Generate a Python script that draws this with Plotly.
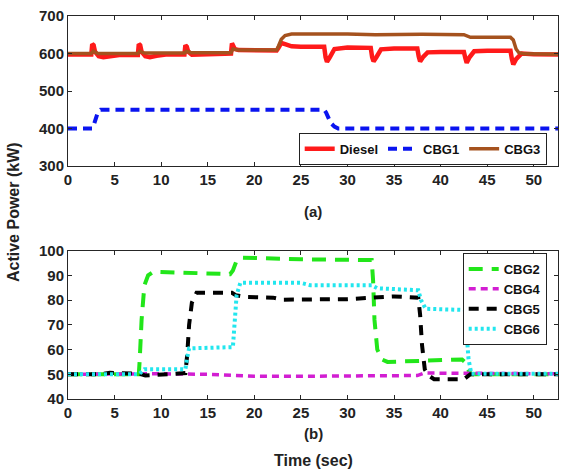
import plotly.graph_objects as go

# ---------------- data ----------------
diesel_t = [0, 2.5, 2.6, 2.75, 2.9, 3.3, 3.8, 4.5, 5.5, 7.5, 7.6, 7.75, 7.9, 8.3, 8.8, 9.5, 10.5, 12.5, 12.6, 12.75, 12.9, 13.3,
            13.8, 15, 17.5, 17.6, 17.75, 17.9, 18.3, 20, 22.4, 22.6, 22.9, 23.3, 24, 25, 27.5, 27.65, 27.8, 28.1, 28.6, 30,
            32.5, 32.65, 32.8, 33.1, 33.6, 35, 37.5, 37.65, 37.8, 38.1, 38.6, 40, 42.5, 42.65, 42.8, 43.1, 43.6, 45, 47.5,
            47.65, 47.8, 48.1, 48.7, 50, 52.6]
diesel_v = [597, 597, 625, 622, 605, 593, 590, 592, 596, 596, 625, 622, 605, 593, 590, 594, 597, 597, 622, 618, 605, 597,
            597, 600, 600, 627, 622, 612, 609, 608, 608, 615, 628, 625, 619, 618, 618, 590, 578, 590, 612, 616,
            615, 590, 579, 590, 611, 613, 613, 592, 579, 590, 603, 604, 604, 588, 575, 590, 606, 607, 607,
            585, 571, 585, 600, 598, 597]
cbg1_t = [0, 2.6, 2.8, 3.0, 3.2, 3.5, 27.5, 27.7, 27.9, 28.2, 28.6, 29.0, 52.6]
cbg1_v = [400, 400, 412, 430, 443, 450, 450, 443, 430, 415, 405, 400, 400]
cbg3_t = [0, 2.5, 2.7, 3.2, 7.5, 7.7, 8.2, 12.5, 12.7, 13.2, 17.5, 17.7, 18.3, 22.4, 22.6, 22.9, 23.3, 24, 30, 33, 38, 42.5,
          43.2, 47.5, 47.8, 48.1, 48.4, 49, 52.6]
cbg3_v = [600, 600, 606, 600, 600, 606, 601, 601, 606, 602, 602, 612, 609, 609, 620, 638, 648, 652, 652, 650, 651, 650,
          643, 643, 636, 612, 602, 599, 598]

cbg2_t = [0, 7.6, 7.7, 7.9, 8.2, 8.6, 9.2, 17.4, 17.7, 18.1, 18.7, 25, 32.6, 32.75, 32.9, 33.2, 33.7, 34.3, 42.3, 42.6, 42.9,
          43.3, 52.6]
cbg2_v = [50, 50, 56, 72, 86, 90, 91.5, 90.5, 92, 96, 97.2, 96.5, 96.2, 88, 72, 60, 56, 55, 56, 55, 52, 50, 50]
cbg4_t = [0, 8, 10, 15, 20, 25, 30, 37.5, 38.2, 42, 45, 52.6]
cbg4_v = [50, 50.4, 50.2, 50, 49.2, 49.2, 49.4, 49.5, 50.5, 50.5, 50.3, 50.2]
cbg5_t = [0, 3.5, 4.5, 7.7, 8.3, 12.6, 12.8, 13.0, 13.3, 13.8, 17.6, 18.0, 19, 22, 23, 30, 35, 37.6, 37.8, 38.0, 38.3,
          38.7, 39.3, 42.5, 43.2, 52.6]
cbg5_v = [50, 50, 50.6, 50.2, 49.5, 50.5, 58, 70, 79, 83, 83, 82, 81.3, 81, 80.2, 80.4, 81.5, 81, 74, 62, 52, 49.5,
          48, 48, 50, 50]
cbg6_t = [0, 7.6, 8.2, 12.6, 12.8, 13.0, 17.7, 17.9, 18.1, 18.5, 25, 26, 32.6, 33.2, 37.6, 37.9, 38.4, 42.6, 42.8, 43.0,
          43.3, 52.6]
cbg6_v = [50, 50, 52, 52, 57, 60.5, 61, 72, 82, 87, 87, 86, 86, 84.8, 84, 80, 76.5, 76, 66, 56, 50.2, 50.2]

x_ticks = [0, 5, 10, 15, 20, 25, 30, 35, 40, 45, 50]
top_ticks = [300, 400, 500, 600, 700]
bot_ticks = [40, 50, 60, 70, 80, 90, 100]

FONT = "Liberation Sans, Arial, sans-serif"
AXC = "#262626"
TXT = "#222222"

# page geometry (pixels)
W, H, L, R, T, B = 570, 471, 68, 12, 16, 72
pw, ph = W - L - R, H - T - B


def px_x(v):
    return (v - L) / pw


def px_y(v):
    return (H - B - v) / ph


fig = go.Figure()
# top panel
fig.add_trace(go.Scatter(x=diesel_t, y=diesel_v, name="Diesel", mode="lines",
                         line=dict(color="#ff1a1a", width=4.5), xaxis="x", yaxis="y"))
fig.add_trace(go.Scatter(x=cbg1_t, y=cbg1_v, name="CBG1", mode="lines",
                         line=dict(color="#0a14f0", width=4, dash="9px,6px"), xaxis="x", yaxis="y"))
fig.add_trace(go.Scatter(x=cbg3_t, y=cbg3_v, name="CBG3", mode="lines",
                         line=dict(color="#a5521e", width=3.5), xaxis="x", yaxis="y"))
# bottom panel
fig.add_trace(go.Scatter(x=cbg2_t, y=cbg2_v, name="CBG2", mode="lines",
                         line=dict(color="#22e61a", width=4, dash="14px,9px"), xaxis="x2", yaxis="y2",
                         legend="legend2"))
fig.add_trace(go.Scatter(x=cbg4_t, y=cbg4_v, name="CBG4", mode="lines",
                         line=dict(color="#d21ed2", width=3.5, dash="7px,5px"), xaxis="x2", yaxis="y2",
                         legend="legend2"))
fig.add_trace(go.Scatter(x=cbg5_t, y=cbg5_v, name="CBG5", mode="lines",
                         line=dict(color="#000000", width=4, dash="10px,8px"), xaxis="x2", yaxis="y2",
                         legend="legend2"))
fig.add_trace(go.Scatter(x=cbg6_t, y=cbg6_v, name="CBG6", mode="lines",
                         line=dict(color="#22e6ee", width=4, dash="3px,3px"), xaxis="x2", yaxis="y2",
                         legend="legend2"))

axis_common = dict(showgrid=False, zeroline=False, showline=True, linecolor=AXC, linewidth=1, mirror="ticks",
                   ticks="inside", ticklen=4, tickcolor=AXC, tickwidth=1,
                   tickfont=dict(family=FONT, size=15, color=TXT, weight="bold"))

legfont = dict(family=FONT, size=13, color="#111111", weight="bold")

fig.update_layout(
    width=W, height=H,
    margin=dict(l=L, r=R, t=T, b=B, autoexpand=False),
    paper_bgcolor="white", plot_bgcolor="white",
    font=dict(family=FONT, size=14, color=TXT),
    xaxis=dict(domain=[0, 1], range=[0, 52.6], tickvals=x_ticks, anchor="y", **axis_common),
    yaxis=dict(domain=[px_y(166), 1], range=[300, 700], tickvals=top_ticks, anchor="x", **axis_common),
    xaxis2=dict(domain=[0, 1], range=[0, 52.6], tickvals=x_ticks, anchor="y2", **axis_common),
    yaxis2=dict(domain=[0, px_y(250.7)], range=[40, 100], tickvals=bot_ticks, anchor="x2", **axis_common),
    legend=dict(orientation="h", x=px_x(546.7), y=px_y(132.7), xanchor="right", yanchor="top",
                bgcolor="white", bordercolor="#222222", borderwidth=1, font=legfont,
                itemwidth=30, tracegroupgap=0),
    legend2=dict(orientation="v", x=px_x(546.7), y=px_y(253), xanchor="right", yanchor="top",
                 bgcolor="white", bordercolor="#222222", borderwidth=1, font=legfont,
                 itemwidth=30, tracegroupgap=0),
    showlegend=True,
)

ann = dict(xref="paper", yref="paper", showarrow=False, xanchor="center", yanchor="middle")
fig.add_annotation(text="<b>(a)</b>", x=px_x(313), y=px_y(211), font=dict(family=FONT, size=15, color=TXT), **ann)
fig.add_annotation(text="<b>(b)</b>", x=px_x(313), y=px_y(434), font=dict(family=FONT, size=15, color=TXT), **ann)
fig.add_annotation(text="<b>Time (sec)</b>", x=px_x(313), y=px_y(460), font=dict(family=FONT, size=16, color=TXT),
                   **ann)
fig.add_annotation(text="<b>Active Power (kW)</b>", x=px_x(13), y=px_y(212), textangle=-90,
                   font=dict(family=FONT, size=16, color=TXT), **ann)

fig.write_html("out.html", config={"displayModeBar": False},
               post_script="document.body.style.margin='0';document.body.style.overflow='hidden';")
